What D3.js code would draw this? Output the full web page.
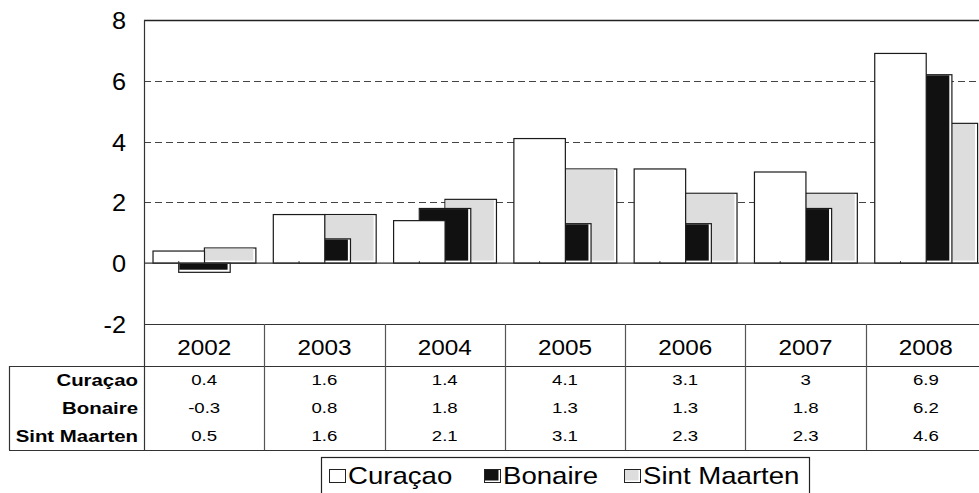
<!DOCTYPE html>
<html>
<head>
<meta charset="utf-8">
<script src="https://cdn.jsdelivr.net/npm/d3@7"></script>
<style>
  body { margin: 0; background: #fff; }
  svg { display: block; }
  text { font-family: 'Liberation Sans', Arial, sans-serif; fill: #000; }
</style>
</head>
<body>
<svg id="chart" width="979" height="493"></svg>
<script>
// data
const years = ['2002', '2003', '2004', '2005', '2006', '2007', '2008']
const curacao = [0.4, 1.6, 1.4, 4.1, 3.1, 3, 6.9]
const bonaire = [-0.3, 0.8, 1.8, 1.3, 1.3, 1.8, 6.2]
const sintMaarten = [0.5, 1.6, 2.1, 3.1, 2.3, 2.3, 4.6]
const yTicks = [-2, 0, 2, 4, 6, 8]
const gridTicks = [2, 4, 6]

const series = [
  { name: 'Curaçao', values: curacao, fill: '#ffffff', slot: 0 },
  { name: 'Bonaire', values: bonaire, fill: '#111111', slot: 1 },
  { name: 'Sint Maarten', values: sintMaarten, fill: '#dddddd', slot: 2 }
]

const svg = d3.select('#chart')

/// layout ////////////////////////////////
const plotLeft = 144
const plotRight = 986
const plotTop = 20
const plotBottom = 324
const headBottom = 366
const tableBottom = 450
const tableLeft = 9
const rowH = (tableBottom - headBottom) / series.length

/// scales ////////////////////////////////
const xScale = d3.scaleBand().domain(years).range([plotLeft, plotRight])
const yScale = d3.scaleLinear().domain([-2, 8]).range([plotBottom, plotTop])

const bw = xScale.bandwidth()
const barW = bw * 0.428
const barStep = bw * 0.2136
const barInset = bw * 0.075

// stretched text, like the pasted excel picture
function stretchText(g, x, y, txt, size, sx, anchor, weight) {
  return g.append('text')
    .attr('transform', `translate(${x},${y}) scale(${sx},1)`)
    .attr('text-anchor', anchor || 'middle')
    .attr('dominant-baseline', 'central')
    .attr('font-size', size)
    .attr('font-weight', weight || 'normal')
    .text(txt)
}

/// grid ////////////////////////////////
svg.append('g')
  .selectAll('line')
  .data(gridTicks)
  .enter()
  .append('line')
  .attr('x1', plotLeft)
  .attr('x2', plotRight)
  .attr('y1', d => Math.round(yScale(d)) + 0.5)
  .attr('y2', d => Math.round(yScale(d)) + 0.5)
  .attr('stroke', '#444')
  .attr('stroke-width', 1)
  .attr('stroke-dasharray', '7,4')

/// bars (drawn back to front: Sint Maarten, Bonaire, Curaçao) ////
const zeroY = yScale(0)
series.slice().reverse().forEach(s => {
  const g = svg.append('g').attr('class', 'bars')
  years.forEach((yr, i) => {
    const v = s.values[i]
    const bx = xScale(yr) + barInset + s.slot * barStep
    const by = Math.min(yScale(v), zeroY)
    const bh = Math.abs(yScale(v) - zeroY)
    g.append('rect')
      .attr('x', bx)
      .attr('y', by)
      .attr('width', barW)
      .attr('height', bh)
      .attr('fill', '#fff')
      .attr('stroke', '#1a1a1a')
      .attr('stroke-width', 1.2)
    if (s.fill !== '#ffffff') {
      g.append('rect')
        .attr('x', bx + 0.6)
        .attr('y', by + 0.6)
        .attr('width', Math.max(0, barW - 3.2))
        .attr('height', Math.max(0, bh - 3.2))
        .attr('fill', s.fill)
    }
  })
})

// small ticks on the zero line
svg.append('g')
  .selectAll('line')
  .data(years)
  .enter()
  .append('line')
  .attr('x1', d => xScale(d) + barInset + barW / 2)
  .attr('x2', d => xScale(d) + barInset + barW / 2)
  .attr('y1', zeroY)
  .attr('y2', zeroY - 2)
  .attr('stroke', '#222')

// zero line
svg.append('line')
  .attr('x1', plotLeft).attr('x2', plotRight)
  .attr('y1', zeroY).attr('y2', zeroY)
  .attr('stroke', '#333').attr('stroke-width', 1.3)

/// frame and axis ////////////////////////////////
svg.append('line')
  .attr('x1', plotLeft).attr('x2', plotRight)
  .attr('y1', plotTop + 0.5).attr('y2', plotTop + 0.5)
  .attr('stroke', '#222').attr('stroke-width', 1.3)

svg.append('line')
  .attr('x1', plotLeft + 0.5).attr('x2', plotLeft + 0.5)
  .attr('y1', plotTop).attr('y2', tableBottom)
  .attr('stroke', '#333').attr('stroke-width', 1.2)

const yAxis = svg.append('g')
yTicks.forEach(t => {
  stretchText(yAxis, plotLeft - 18, yScale(t) + 1, t, 23, 1.1, 'end')
})

/// data table ////////////////////////////////
const table = svg.append('g').attr('class', 'table')

table.append('line')
  .attr('x1', plotLeft).attr('x2', plotRight)
  .attr('y1', plotBottom + 0.5).attr('y2', plotBottom + 0.5)
  .attr('stroke', '#333').attr('stroke-width', 1.2)

;[headBottom, tableBottom].forEach(yy => {
  table.append('line')
    .attr('x1', tableLeft).attr('x2', plotRight)
    .attr('y1', yy + 0.5).attr('y2', yy + 0.5)
    .attr('stroke', '#333').attr('stroke-width', 1.2)
})

table.append('line')
  .attr('x1', tableLeft + 0.5).attr('x2', tableLeft + 0.5)
  .attr('y1', headBottom).attr('y2', tableBottom)
  .attr('stroke', '#333').attr('stroke-width', 1.2)

table.selectAll('.col-line')
  .data(years.slice(1))
  .enter()
  .append('line')
  .attr('class', 'col-line')
  .attr('x1', d => Math.round(xScale(d)) + 0.5)
  .attr('x2', d => Math.round(xScale(d)) + 0.5)
  .attr('y1', plotBottom)
  .attr('y2', tableBottom)
  .attr('stroke', '#555')
  .attr('stroke-width', 1.2)

years.forEach(yr => {
  stretchText(table, xScale(yr) + bw / 2, (plotBottom + headBottom) / 2 + 2, yr, 22.5, 1.08)
})

series.forEach((s, r) => {
  const cy = headBottom + rowH * (r + 0.5)
  stretchText(table, plotLeft - 6, cy, s.name, 17, 1.2, 'end', 'bold')
  years.forEach((yr, i) => {
    stretchText(table, xScale(yr) + bw / 2, cy, String(s.values[i]), 15.5, 1.2)
  })
})

/// legend ////////////////////////////////
const legend = svg.append('g').attr('class', 'legend')
legend.append('rect')
  .attr('x', 321.5).attr('y', 457.5)
  .attr('width', 488).attr('height', 50)
  .attr('fill', '#fff')
  .attr('stroke', '#222').attr('stroke-width', 1.2)

const legendX = [329, 484, 624]
series.forEach((s, i) => {
  const lx = legendX[i]
  legend.append('rect')
    .attr('x', lx + 0.5).attr('y', 469.5)
    .attr('width', 16).attr('height', 13)
    .attr('fill', '#fff')
    .attr('stroke', '#222').attr('stroke-width', 1)
  if (s.fill !== '#ffffff') {
    legend.append('rect')
      .attr('x', lx + 1).attr('y', 470)
      .attr('width', 13.5).attr('height', 10.5)
      .attr('fill', s.fill)
  }
  stretchText(legend, lx + 19, 476, s.name, 24, 1.15, 'start')
})
</script>
</body>
</html>
